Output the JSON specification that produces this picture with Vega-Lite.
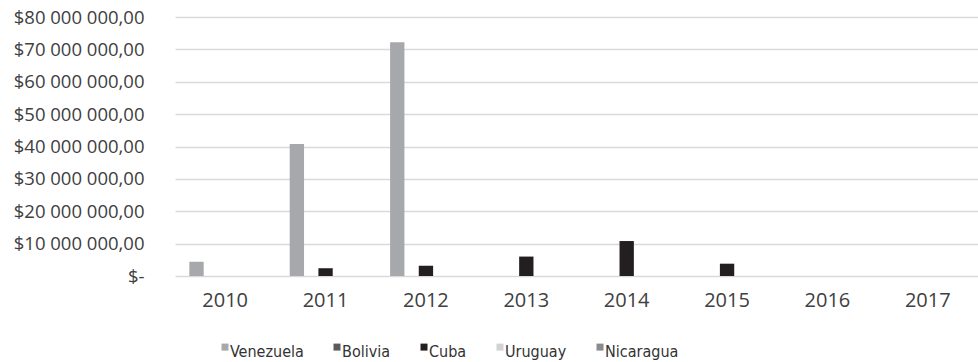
{
  "$schema": "https://vega.github.io/schema/vega-lite/v6.json",
  "autosize": "none",
  "width": 803,
  "height": 259,
  "padding": {"left": 175, "top": 17, "right": 0, "bottom": 86},
  "background": "white",
  "config": {
    "view": {"stroke": null},
    "locale": {"number": {"decimal": ",", "thousands": " ", "grouping": [3], "currency": ["$", ""]}}
  },
  "data": {
    "values": [
      {"year": "2010", "country": "Venezuela", "value": 4400000},
      {"year": "2011", "country": "Venezuela", "value": 40800000},
      {"year": "2012", "country": "Venezuela", "value": 72200000},
      {"year": "2011", "country": "Cuba", "value": 2400000},
      {"year": "2012", "country": "Cuba", "value": 3200000},
      {"year": "2013", "country": "Cuba", "value": 6000000},
      {"year": "2014", "country": "Cuba", "value": 10800000},
      {"year": "2015", "country": "Cuba", "value": 3800000},
      {"year": "2016", "country": "Bolivia", "value": 0},
      {"year": "2017", "country": "Uruguay", "value": 0},
      {"year": "2017", "country": "Nicaragua", "value": 0}
    ]
  },
  "mark": {"type": "bar"},
  "encoding": {
    "x": {
      "field": "year", "type": "nominal",
      "scale": {"domain": ["2010","2011","2012","2013","2014","2015","2016","2017"], "paddingInner": 0, "paddingOuter": 0},
      "axis": {"title": null, "labelAngle": 0, "domain": false, "ticks": false, "labelPadding": 14, "labelFont": "Open Sans", "labelFontSize": 20, "labelColor": "#404040"}
    },
    "xOffset": {
      "field": "country", "type": "nominal",
      "scale": {"domain": ["Venezuela","Bolivia","Cuba","Uruguay","Nicaragua"], "paddingInner": 0, "paddingOuter": 1}
    },
    "y": {
      "field": "value", "type": "quantitative",
      "scale": {"domain": [0, 80000000], "nice": false},
      "axis": {"title": null, "values": [0,10000000,20000000,30000000,40000000,50000000,60000000,70000000,80000000], "format": "$,.2f", "labelExpr": "datum.value === 0 ? '$-' : datum.label", "domain": false, "ticks": false, "labelPadding": 31, "labelFont": "Open Sans", "labelFontSize": 18.5, "labelColor": "#404040", "gridColor": "#d9d9d9", "gridWidth": 1.3}
    },
    "color": {
      "field": "country", "type": "nominal",
      "scale": {"domain": ["Venezuela","Bolivia","Cuba","Uruguay","Nicaragua"], "range": ["#a7a8ab","#5b5b5d","#231f20","#d1d2d4","#8a8b8d"]},
      "legend": {
        "title": null, "orient": "none", "direction": "horizontal", "columns": 5,
        "legendX": 42, "legendY": 327, "padding": 0,
        "symbolType": "M-1,-2.4H1V-0.4H-1Z", "symbolSize": 49, "symbolStrokeWidth": 0,
        "labelOffset": -3, "columnPadding": 25,
        "labelFont": "DejaVu Sans Condensed", "labelFontSize": 16, "labelColor": "#333333"
      }
    }
  }
}
